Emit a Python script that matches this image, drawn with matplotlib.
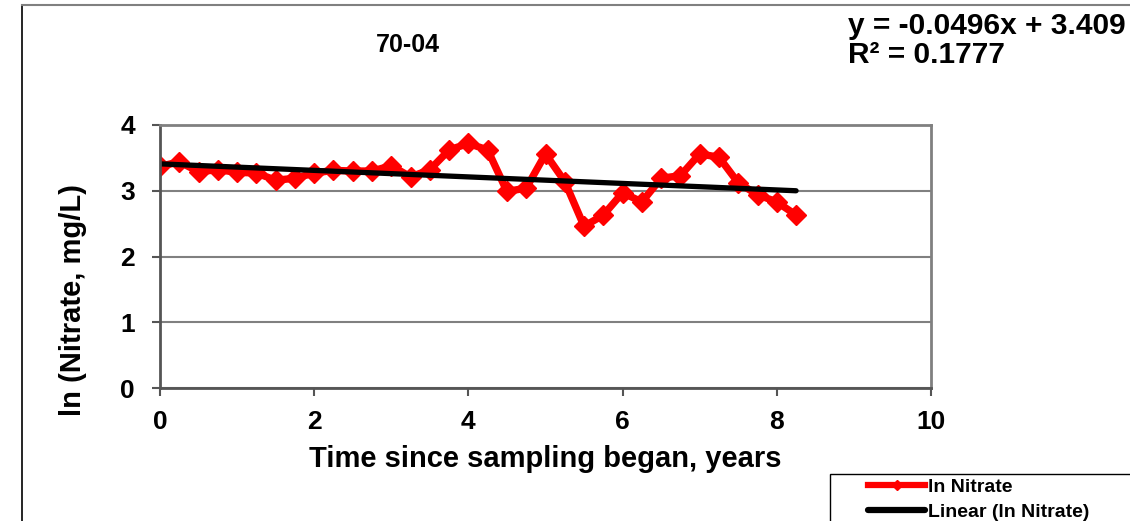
import matplotlib
matplotlib.use("Agg")
import matplotlib.pyplot as plt
from matplotlib.lines import Line2D
from matplotlib.patches import Rectangle

plt.rcParams['font.family'] = ['Liberation Sans', 'DejaVu Sans']
plt.rcParams['font.weight'] = 'bold'

# Data
years = [0.0, 0.25, 0.5, 0.75, 1.0, 1.25, 1.5, 1.75, 2.0, 2.25, 2.5, 2.75,
         3.0, 3.25, 3.5, 3.75, 4.0, 4.25, 4.5, 4.75, 5.0, 5.25, 5.5, 5.75,
         6.0, 6.25, 6.5, 6.75, 7.0, 7.25, 7.5, 7.75, 8.0, 8.25]
ln_nitrate = [3.37, 3.44, 3.29, 3.32, 3.28, 3.27, 3.16, 3.19, 3.27, 3.31,
              3.30, 3.30, 3.38, 3.21, 3.32, 3.62, 3.72, 3.62, 2.99, 3.04,
              3.56, 3.14, 2.46, 2.63, 2.97, 2.83, 3.19, 3.23, 3.56, 3.51,
              3.12, 2.94, 2.83, 2.63]

slope = -0.0496
intercept = 3.409
r_squared = 0.1777
trend_x = [years[0], years[-1]]
trend_y = [slope * x + intercept for x in trend_x]

W, H = 1130, 521
fig = plt.figure(figsize=(W / 100, H / 100), dpi=100)

# outer chart frame (cut off at right and bottom)
fig.add_artist(Line2D([22 / W, 22 / W], [0, 1 - 5 / H], color='black', lw=1.2))
fig.add_artist(Line2D([22 / W, 1], [1 - 5 / H, 1 - 5 / H], color='#808080', lw=1.5))

ax = fig.add_axes([160 / W, 1 - 388 / H, (931 - 160) / W, (388 - 125) / H])

ax.plot(years, ln_nitrate, color='red', lw=5.3, marker='D', markersize=10,
        label='ln Nitrate')
ax.plot(trend_x, trend_y, color='black', lw=3.8, solid_capstyle='round',
        label='Linear (ln Nitrate)')

ax.set_xlim(0, 10)
ax.set_ylim(0, 4)
ax.set_xticks([0, 2, 4, 6, 8, 10])
ax.set_yticks([0, 1, 2, 3, 4])
ax.grid(axis='y', color='#808080', lw=1.5)
ax.set_axisbelow(True)

for side in ['top', 'right']:
    ax.spines[side].set_color('#808080')
    ax.spines[side].set_linewidth(2)
for side in ['left', 'bottom']:
    ax.spines[side].set_color('#555555')
    ax.spines[side].set_linewidth(2)

ax.tick_params(axis='both', direction='out', length=6, width=1.5,
               color='#555555', labelsize=19)
ax.tick_params(axis='y', pad=12)
ax.tick_params(axis='x', pad=10)
for lbl in ax.get_xticklabels() + ax.get_yticklabels():
    lbl.set_fontweight('bold')

ax.set_xlabel('Time since sampling began, years', fontsize=21, fontweight='bold',
              labelpad=8)
ax.set_ylabel('ln (Nitrate, mg/L)', fontsize=21, fontweight='bold')
ax.yaxis.set_label_coords(-73 / 771, 0.335)

fig.text(408 / W, 1 - 45 / H, '70-04', ha='center', va='center',
         fontsize=18, fontweight='bold')
fig.text(848 / W, 1 - 34 / H, f'y = {slope}x + {intercept}', ha='left',
         va='baseline', fontsize=21.5, fontweight='bold')
fig.text(848 / W, 1 - 63 / H, f'R² = {r_squared}', ha='left', va='baseline',
         fontsize=21.5, fontweight='bold')

# legend box (runs off the bottom/right edge like the original)
fig.add_artist(Rectangle((830 / W, -0.01), (1140 - 830) / W, (521 - 474) / H + 0.01,
                         transform=fig.transFigure, facecolor='white',
                         edgecolor='black', lw=1))
leg = fig.legend(loc='upper left', bbox_to_anchor=(868 / W, 1 - 478 / H),
                 borderaxespad=0, frameon=False,
                 prop={'size': 14, 'weight': 'bold'},
                 handlelength=2.95, handletextpad=0.15, borderpad=0,
                 labelspacing=0.4, markerscale=0.5)
for line in leg.get_lines():
    line.set_linewidth(4.5)

fig.savefig('out.png', dpi=100)
